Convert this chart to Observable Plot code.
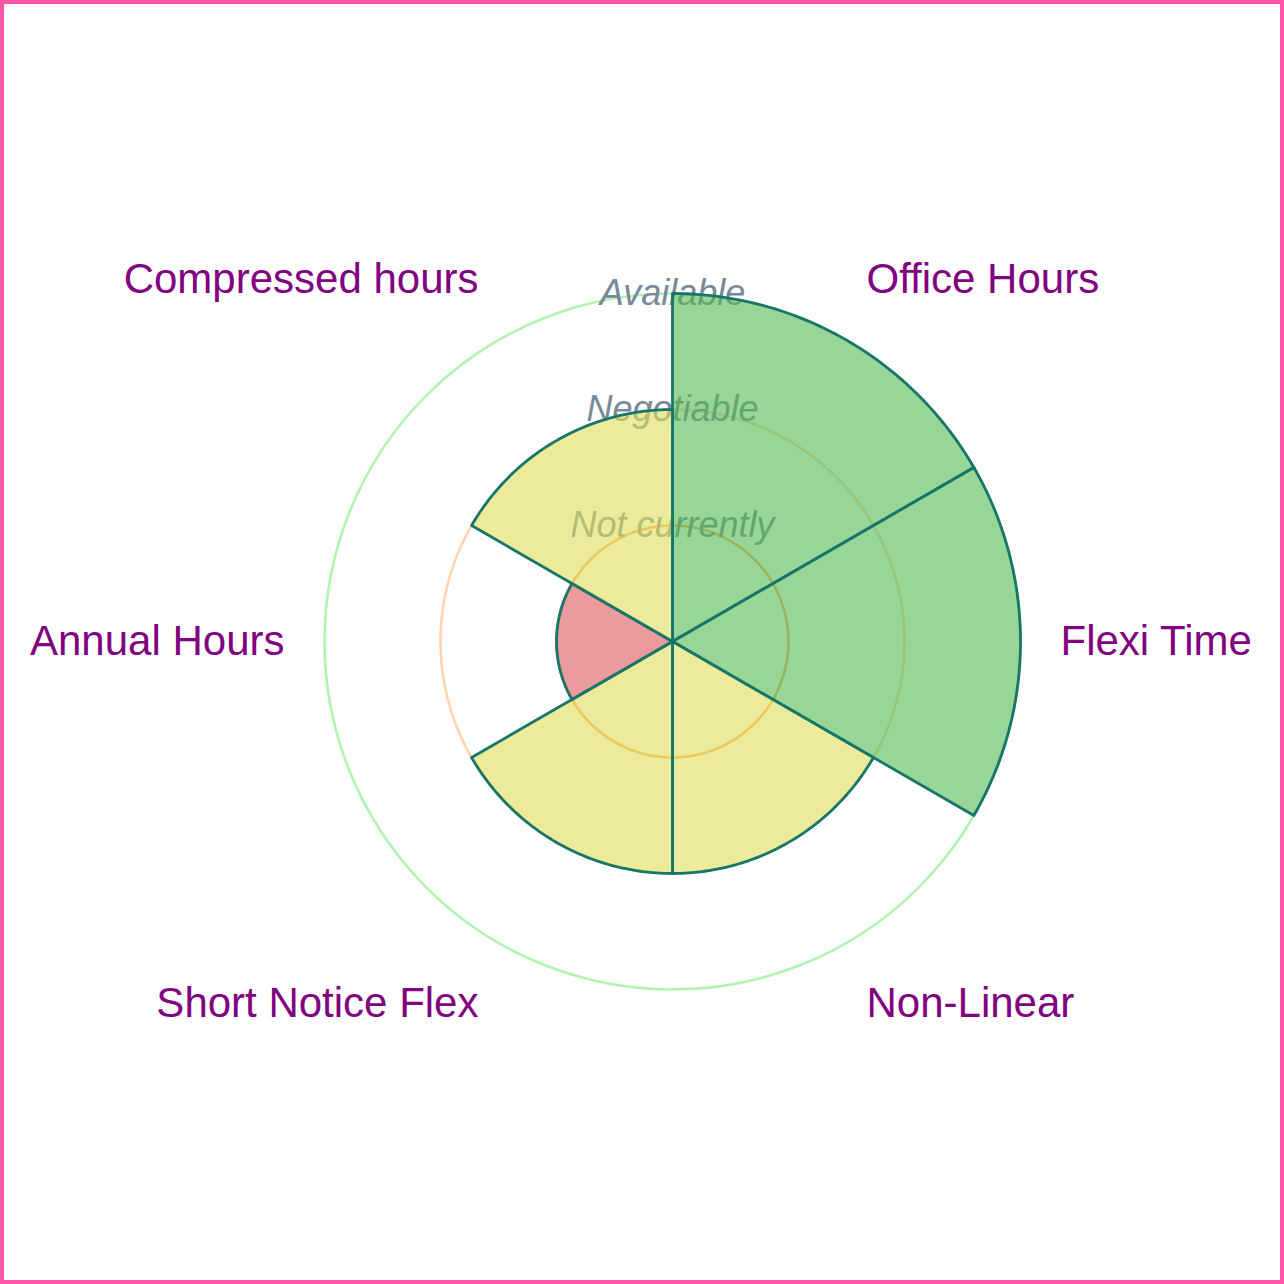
<!DOCTYPE html>
<html>
<head>
<meta charset="utf-8">
<script src="https://cdn.jsdelivr.net/npm/d3@7"></script>
<script src="https://cdn.jsdelivr.net/npm/@observablehq/plot@0.6"></script>
<style>
  html, body { margin: 0; padding: 0; background: #fff; }
  #wrap { width: 1284px; height: 1284px; box-sizing: border-box; border: 4px solid #ff55a8; }
  svg { display: block; }
</style>
</head>
<body>
<div id="wrap"></div>
<script>
// ---- data ----
const categories = ["Office Hours", "Flexi Time", "Non-Linear", "Short Notice Flex", "Annual Hours", "Compressed hours"];
const values = [3, 3, 2, 2, 1, 2];               // 1 = Not currently, 2 = Negotiable, 3 = Available
const levelLabels = ["Not currently", "Negotiable", "Available"];
const levelValues = [1, 2, 3];
const levelColors = ["#de5858", "#dede58", "#53bb53"];
const ringColors = ["#ff9a4a", "#ffd5b0", "#90ee90"];
const ringOpacity = [0.85, 1, 0.7];

// ---- derived geometry (polar -> cartesian in value units) ----
const n = categories.length;
const step = 2 * Math.PI / n;
const arcSteps = 60;
const sectorPts = [];
categories.forEach((c, i) => {
  const v = values[i];
  const lvl = levelLabels[v - 1];
  sectorPts.push({cat: c, level: lvl, x: 0, y: 0});
  for (let k = 0; k <= arcSteps; k++) {
    const a = (i + k / arcSteps) * step;
    sectorPts.push({cat: c, level: lvl, x: v * Math.sin(a), y: v * Math.cos(a)});
  }
  sectorPts.push({cat: c, level: lvl, x: 0, y: 0});
});

const labelRx = 3.345, labelRy = 3.6;
const labelMarks = categories.map((c, i) => {
  const a = (i + 0.5) * step;
  const s = Math.sin(a);
  const anchor = s > 0.01 ? "start" : s < -0.01 ? "end" : "middle";
  return Plot.text([c], {
    x: () => labelRx * s, y: () => labelRy * Math.cos(a), text: d => d,
    textAnchor: anchor, lineAnchor: "middle",
    fill: "#800080", fontSize: 42, fontFamily: "Liberation Sans, Arial, sans-serif"
  });
});

const ringMarks = levelValues.map((v, i) => Plot.dot([v], {
  x: () => 0, y: () => 0, r: d => d,
  stroke: ringColors[i], strokeOpacity: ringOpacity[i], strokeWidth: 2.6, fill: "none"
}));

const chart = Plot.plot({
  width: 1276, height: 1276,
  marginLeft: 320, marginRight: 260, marginTop: 289, marginBottom: 291,
  x: {domain: [-3, 3], axis: null},
  y: {domain: [-3, 3], axis: null},
  r: {type: "linear", domain: [0, 3], range: [0, 348]},
  color: {domain: levelLabels, range: levelColors},
  style: {fontFamily: "Liberation Sans, Arial, sans-serif", background: "white"},
  marks: [
    ...ringMarks,
    Plot.text(levelValues, {
      x: () => 0, y: d => d, text: (d, i) => levelLabels[i],
      fill: "#778899", fontSize: 36, fontStyle: "italic", lineAnchor: "middle", textAnchor: "middle"
    }),
    Plot.line(sectorPts, {
      x: "x", y: "y", z: "cat", fill: "level", fillOpacity: 0.6,
      stroke: "#17766a", strokeWidth: 2.8, strokeLinejoin: "round", curve: "linear"
    }),
    ...labelMarks
  ]
});
document.getElementById("wrap").appendChild(chart);
</script>
</body>
</html>
